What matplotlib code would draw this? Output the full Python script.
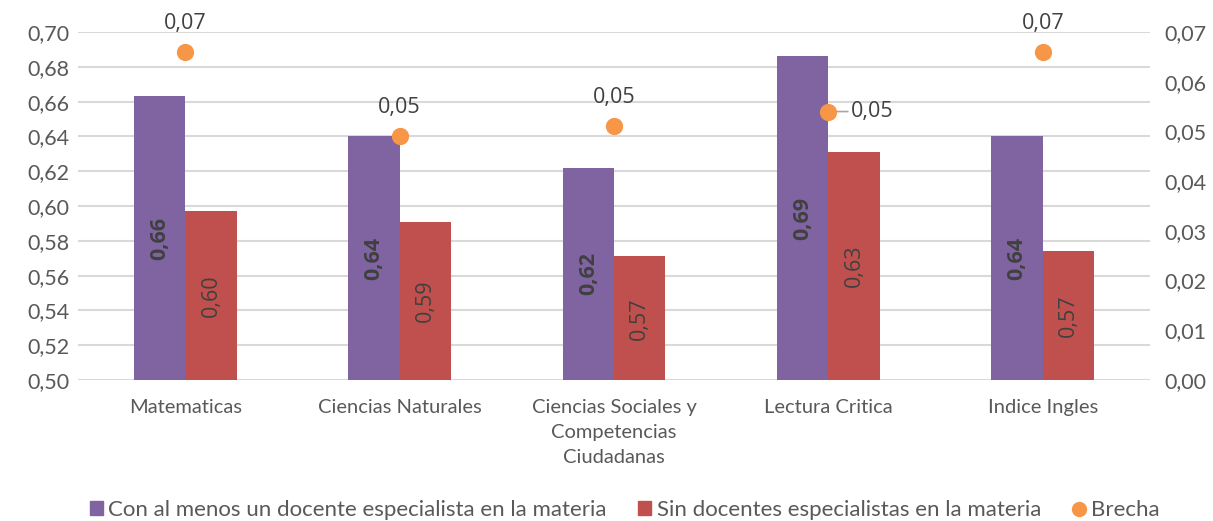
import matplotlib
matplotlib.use("Agg")
import matplotlib.pyplot as plt
import numpy as np
from matplotlib.lines import Line2D
from matplotlib.patches import Patch

categories = ["Matematicas", "Ciencias Naturales", "Ciencias Sociales y\nCompetencias\nCiudadanas",
              "Lectura Critica", "Indice Ingles"]
con_docente = [0.663, 0.640, 0.622, 0.686, 0.640]
sin_docente = [0.597, 0.591, 0.571, 0.631, 0.574]
brecha = [0.066, 0.049, 0.051, 0.054, 0.066]
left_ticks = [0.50, 0.52, 0.54, 0.56, 0.58, 0.60, 0.62, 0.64, 0.66, 0.68, 0.70]
right_ticks = [0.00, 0.01, 0.02, 0.03, 0.04, 0.05, 0.06, 0.07]
series_names = ["Con al menos un docente especialista en la materia",
                "Sin docentes especialistas en la materia", "Brecha"]

PURPLE = "#8064A2"
RED = "#C0504D"
ORANGE = "#F79646"
TXT = "#595959"
LBL = "#404040"
AXF = "Lato"
DLF = "Open Sans"

def fmt(v):
    return f"{v:.2f}".replace(".", ",")

fig = plt.figure(figsize=(12.13, 5.21), dpi=100)
ax = fig.add_axes([78/1213, 1-380/521, (1150-78)/1213, (380-32)/521])
ax2 = ax.twinx()

x = np.arange(len(categories))
w = 0.24
ax.bar(x - w/2, con_docente, w, color=PURPLE, zorder=2)
ax.bar(x + w/2, sin_docente, w, color=RED, zorder=2)
ax.set_ylim(0.50, 0.70)
ax.set_xlim(-0.5, len(categories) - 0.5)
ax.set_yticks(left_ticks)
ax.set_yticklabels([fmt(t) for t in left_ticks], fontsize=15.5, color=TXT, family=AXF)
ax.set_xticks(x)
ax.set_xticklabels(categories, fontsize=14.5, color=TXT, family=AXF, linespacing=1.55)
ax.tick_params(axis="both", length=0)
ax.tick_params(axis="x", pad=14)
ax.tick_params(axis="y", pad=6)
ax.grid(axis="y", color="#d9d9d9", linewidth=1.5, zorder=0)
ax.set_axisbelow(True)
for s in ax.spines.values():
    s.set_visible(False)
for s in ax2.spines.values():
    s.set_visible(False)

for xi, v in zip(x, con_docente):
    ax.text(xi - w/2, (0.50 + v)/2, fmt(v), rotation=90, ha="center", va="center",
            fontsize=15.5, fontweight="bold", color=LBL, family=DLF, zorder=3)
for xi, v in zip(x, sin_docente):
    ax.text(xi + w/2, (0.50 + v)/2, fmt(v), rotation=90, ha="center", va="center",
            fontsize=15.5, color=LBL, family=DLF, zorder=3)

ax2.scatter(x, brecha, s=130, color=ORANGE, zorder=4, clip_on=False)
ax2.set_ylim(0.0, 0.07)
ax2.set_yticks(right_ticks)
ax2.set_yticklabels([fmt(t) for t in right_ticks], fontsize=15.5, color=TXT, family=AXF)
ax2.tick_params(axis="y", length=0, pad=10)

for i, v in enumerate(brecha):
    if i == 3:
        ax2.annotate(fmt(v), xy=(x[i], v), xytext=(16, 0), textcoords="offset points",
                     ha="left", va="center", fontsize=15.5, color=LBL, family=DLF,
                     arrowprops=dict(arrowstyle="-", color="#a6a6a6", lw=1.2,
                                     shrinkA=0, shrinkB=4))
    else:
        ax2.annotate(fmt(v), xy=(x[i], v), xytext=(0, 13), textcoords="offset points",
                     ha="center", va="bottom", fontsize=15.5, color=LBL, family=DLF,
                     annotation_clip=False)

handles = [Patch(color=PURPLE), Patch(color=RED),
           Line2D([0], [0], marker="o", linestyle="none", markersize=10,
                  markerfacecolor=ORANGE, markeredgecolor=ORANGE)]
leg = fig.legend(handles, series_names, loc="center", bbox_to_anchor=(0.515, 1-510/521),
                 ncol=3, frameon=False, handlelength=0.6, handleheight=0.6,
                 handletextpad=0.25, columnspacing=1.4,
                 prop={"family": AXF, "size": 16})
for t in leg.get_texts():
    t.set_color(TXT)

fig.savefig("out.png", dpi=100)
